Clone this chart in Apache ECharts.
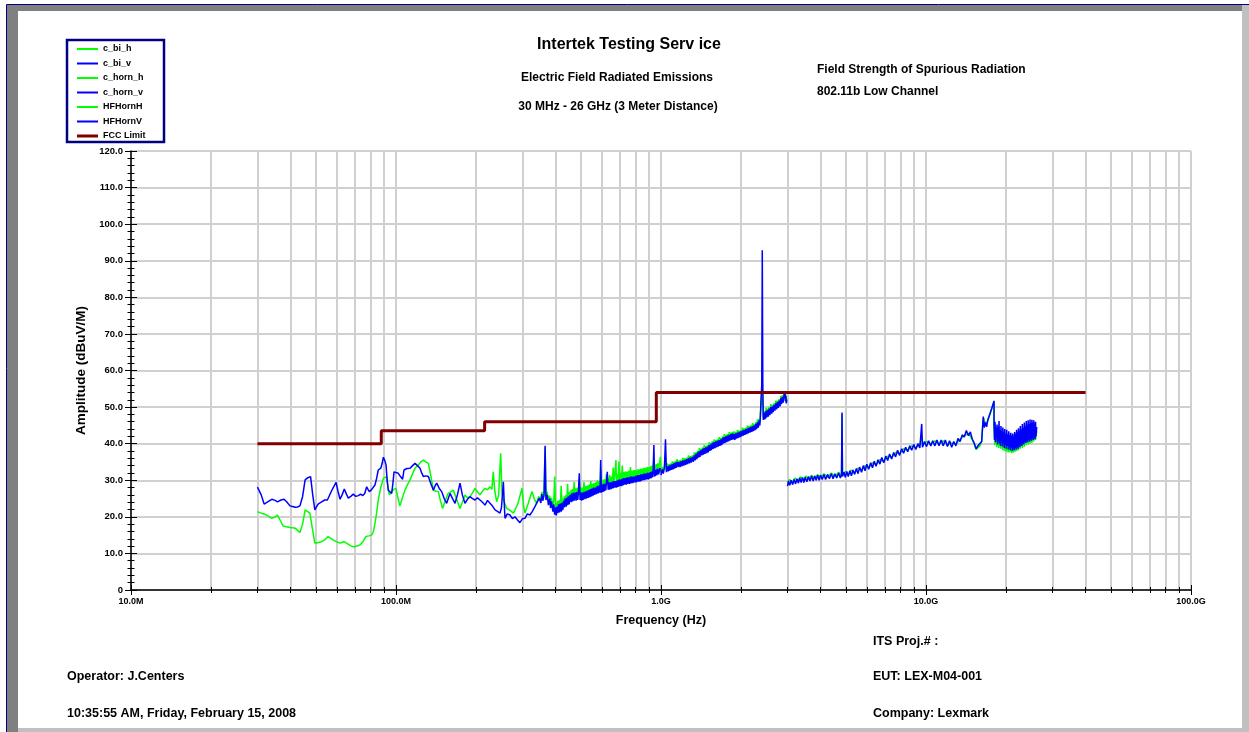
<!DOCTYPE html>
<html><head><meta charset="utf-8">
<script src="https://cdn.jsdelivr.net/npm/echarts@6/dist/echarts.min.js"></script>
<style>html,body{margin:0;padding:0;background:#fff}#c{width:1249px;height:732px}</style>
</head><body><div id="c"></div>
<script>
// ---- data (frequency in MHz, amplitude in dBuV/m) ----
const seriesNames = ['c_bi_h','c_bi_v','c_horn_h','c_horn_v','HFHornH','HFHornV','FCC Limit'];
const yTicks = [0,10,20,30,40,50,60,70,80,90,100,110,120];

const limitFreq = [30, 88, 88, 216, 216, 960, 960, 40000];
const limitVal  = [40, 40, 43.5, 43.5, 46, 46, 54, 54];

const c_bi_h = [[30,21.4],[31,21],[31.8,20.8],[33,20.2],[34,19.6],[35,20],[35.7,20.5],[36.6,19],[37.5,17.5],[38.6,17.3],[39.8,17.1],[40.7,17],[41.6,16.9],[42.5,16.3],[43.4,15.7],[44.4,18],[45.4,21.9],[46.3,21.5],[47.3,21.0],[48.3,17],[49.4,12.8],[51,13],[52.4,13.2],[54,13.8],[55.4,14.6],[56.6,14.2],[57.9,13.7],[59.6,13.2],[61.5,12.8],[63.6,13.2],[65,12.8],[66.1,12.3],[67.8,12],[69.4,11.8],[71.2,12],[73.1,12.3],[75,13.2],[77,14.6],[79,14.8],[80.9,15.0],[82.2,16],[83.3,18.2],[84.5,21],[85.7,24.6],[87.6,28],[89.6,30.5],[92.2,31.0],[93.3,28],[94.4,26.0],[96.3,26.9],[98,27.5],[99.9,27.8],[101.5,25.5],[103.4,23.0],[105.5,25],[108.1,27.3],[110.5,28.8],[113,30.1],[115.5,31.8],[118,33.3],[121.5,34.2],[124,35],[126.9,35.5],[129.5,35],[132.5,34.6],[135.5,31],[138.4,27.3],[141.5,27],[144.5,26.9],[147,24.5],[149.9,22.3],[153.5,24.5],[157.3,26.4],[160.8,26.8],[164.5,27.3],[169,25],[174.4,22.3],[178,24],[182.1,26.0],[186,25.2],[190.2,25.5],[194.5,26.6],[198.7,27.8],[203,26.8],[207.5,26.0],[212,27],[216.7,27.8],[221.5,27.4],[226.3,28.2],[230,27.5],[232.9,32.3],[236,27],[239.9,24.1],[244,26],[248.3,37.4],[251,27],[254.2,24.6],[258,23.5],[261.7,22.3],[269,21.8],[277.4,21.0],[288,23.5],[298.9,27.8],[303,23],[306.6,21.0],[315,23.5],[325.8,26.9],[332,25],[339.3,23.7],[345,25.5],
[352,25.0],[355,26.8],[358,25.2],[362,26.8],[365.4,39.0],[368,25.6],[372,26.8],[376,24.4],[380,25.8],[383,23.6],[386,25.2],[391,22.8],[394,24.6],[397,31.0],[400,22.6],[402,23.8],[405,22.0],[408,24.4],[411,22.4],[414,24.6],[417,22.6],[420,28.5],[423,23.0],[426,25.0],[429,23.4],[432,25.6],[435,23.8],[438,26.0],[441,24.2],[444,29.0],[447,24.6],[450,26.8],[454,25.0],[458,27.4],[461,25.4],[464,27.6],[467,25.6],[470,29.5],[474,25.8],[478,27.8],[481,25.8],[485,28.0],[488,26.0],[491,30.5],[495,26.0],[498,28.0],[502,26.0],[505,28.0],[508,26.2],[512,29.5],[516,26.4],[520,28.4],[524,26.6],[528,28.6],[532,26.8],[536,28.8],[540,27.0],[543,29.8],[547,27.2],[550,29.0],[554,27.4],[558,29.2],[562,27.4],[567,29.4],[571,27.6],[575,30.0],[580,27.8],[585,29.8],[589,28.0],[592,33.0],[596,28.0],[600,30.0],[604,28.2],[608,30.2],[611,28.4],[615,30.4],[619,28.6],[622,31.6],[627,28.8],[632,30.6],[636,28.8],[640,31.4],[645,29.0],[650,31.0],[655,29.2],[660,33.5],[664,29.4],[669,31.4],[676,35.5],[679,29.6],[684,31.6],[689,29.8],[694,35.2],[699,30.0],[704,32.0],[709,30.0],[714,34.0],[719,30.2],[724,32.2],[729,30.4],[735,32.4],[740,30.4],[745,32.4],[750,30.6],[756,32.6],[762,30.6],[767,33.6],[772,30.8],[778,32.6],[784,30.8],[790,32.8],[796,31.0],[802,32.8],[808,31.0],[815,33.0],[821,31.2],[827,33.0],[833,31.2],[840,33.2],[845,31.4],[850,33.2],[856,31.6],[862,33.4],[868,31.6],[875,33.4],[881,31.8],[888,33.6],[894,31.8],[901,33.6],[906,32.0],[912,33.8],[918,32.2],[925,34.0],[930,32.4],[940,36.0],[945,32.6],[953,32.8],[959,34.4],[965,33.0],[972,34.6],[980,33.2],[995,36.4],[1000,33.4]];

const c_bi_v = [[30,28.1],[31,26],[31.8,23.5],[33,24.2],[34,24.8],[35,24.5],[35.7,24.1],[36.8,24.6],[37.8,24.8],[38.8,24],[39.8,23.0],[40.7,22.8],[41.6,22.6],[42.5,22.7],[43.4,23.0],[44.4,25.5],[45.4,30.1],[46.5,30.7],[47.6,31.0],[48.5,26],[49.4,21.9],[50.8,23.5],[52.4,24.1],[53.8,24.6],[55.1,24.6],[57.2,27.2],[59.4,29.4],[60.4,27],[61.5,24.8],[62.6,26],[63.8,27.6],[65,26.2],[66.1,25.1],[67.5,25.6],[69,26.2],[70.5,25.6],[72.1,25.8],[73.5,26.2],[74.9,25.8],[76.2,26.4],[77.5,28.2],[78.4,27.5],[79.3,26.9],[81,27.5],[83.3,28.7],[84.5,30.5],[85.7,32.8],[87.6,33.3],[88.6,34.5],[89.6,36.3],[90.6,35.5],[91.7,34.2],[92.6,30],[93.5,27.3],[94.9,26.8],[96.3,26.4],[97.3,29],[98.3,32.3],[100,32.5],[102,31.9],[104,31],[105.9,30.3],[107.2,32.8],[110,33.2],[113,33.3],[115.5,34],[118,34.6],[120.5,34],[123.2,33.3],[125,32],[126.9,31.0],[129.7,31.2],[132.5,31.0],[135.5,29],[138.4,27.3],[140.5,28.5],[142.5,29.2],[145.5,27.8],[148.7,26.9],[152,25],[155.3,23.7],[157.5,25],[159.9,26.4],[163.5,25],[167,23.7],[170.5,26],[174.4,29.2],[178,26],[182.1,23.7],[186,24.8],[190.2,25.5],[194.5,25],[198.7,24.6],[203,25.2],[207.5,24.6],[212,24],[216.7,23.2],[221.5,24.5],[226.3,23.7],[231,23],[236.4,21.9],[241.5,21.5],[246.8,21.0],[250,22.5],[254.2,29.6],[256,24],[257.8,19.6],[263,20.8],[269.2,20.5],[275,19.5],[281.2,20.0],[287,19.2],[293.6,18.4],[300,19.5],[306.6,19.6],[313,20.8],[320.2,20.5],[327,21.5],[334.4,22.8],[341,24],[347.4,25.1],
[352,23.8],[355,26.2],[358,24.4],[362,25.9],[365.4,39.4],[368,24.6],[372,26.0],[376,23.2],[380.3,25.0],[383,22.4],[386,24.2],[391,21.4],[394,23.4],[397,20.6],[400,22.6],[402.7,20.4],[405,22.8],[408,21.0],[411,23.4],[414,21.2],[417,23.6],[420.3,21.4],[423,23.8],[426,21.8],[429,24.4],[432,22.6],[435,25.0],[438.7,22.8],[441,25.2],[444,23.2],[447,25.6],[450,23.4],[454,26.0],[458,24.0],[461,26.4],[464,24.2],[467,26.6],[470,24.4],[474,26.6],[478,24.4],[481,26.8],[485,24.6],[488,26.6],[491.6,31.9],[495,24.6],[498.5,26.6],[502,24.4],[505,26.6],[508,24.6],[512,26.8],[516,24.8],[520,27.0],[524,25.0],[528,27.2],[532,25.2],[536,27.4],[540,25.4],[543,27.6],[547,25.6],[550,27.8],[554,25.8],[558,28.0],[562,26.0],[567,28.0],[571,26.2],[575,28.4],[580,26.4],[585,28.6],[589,26.6],[592,35.5],[596,26.6],[600,28.8],[604,26.8],[608,29.0],[611,27.0],[615,29.0],[619,27.2],[622,29.2],[627,32.3],[632,27.4],[636,29.4],[640,27.4],[645,29.4],[650,27.6],[655,29.6],[660,27.8],[664,29.8],[669,28.0],[674,29.8],[679,28.0],[684,30.0],[689,28.2],[694,30.2],[699,28.4],[704,30.2],[709,28.4],[714,30.4],[719,28.6],[724,30.6],[729,28.8],[735,30.6],[740,28.8],[745,30.8],[750,29.0],[756,30.8],[762,29.0],[767,31.0],[772,29.2],[778,31.0],[784,29.2],[790,31.0],[796,29.4],[802,31.2],[808,29.4],[815,31.4],[821,29.6],[827,31.4],[833,29.6],[840,31.6],[845,29.8],[850,31.6],[856,30.0],[862,31.8],[868,30.0],[875,31.8],[881,30.2],[888,32.0],[894,30.2],[901,32.0],[906,30.4],[912,32.2],[918,30.6],[925,32.4],[930,30.8],[935,33.5],[940,39.6],[945,31.0],[949,32.8],[953,31.2],[959,33.0],[965,31.4],[972,33.2],[980,31.6],[990,33.4],[1000,32.0]];

const c_horn_h = [[1000,32.0],[1010,33.6],[1020,32.6],[1030,33.8],[1040,36.5],[1048,32.8],[1056,34.6],[1065,32.8],[1073,34.4],[1080,33.4],[1088,34.6],[1095,33.2],[1103,35.2],[1110,33.4],[1118,35.0],[1125,34.0],[1133,35.2],[1140,33.8],[1150,35.8],[1160,34.0],[1170,35.4],[1180,34.4],[1190,35.6],[1200,34.2],[1210,36.2],[1220,34.4],[1230,36.0],[1240,35.0],[1250,36.2],[1260,34.8],[1270,36.8],[1280,35.0],[1290,36.6],[1300,35.6],[1312,36.8],[1324,35.4],[1335,37.6],[1345,35.8],[1355,37.6],[1365,36.6],[1375,38.0],[1385,36.6],[1395,38.8],[1403,36.8],[1414,38.6],[1425,37.6],[1435,39.0],[1445,37.4],[1455,39.6],[1465,37.6],[1476,39.4],[1487,38.2],[1498,39.6],[1508,38.0],[1519,40.4],[1530,38.4],[1540,40.2],[1550,39.0],[1562,40.6],[1575,39.0],[1587,41.2],[1598,39.2],[1610,41.0],[1620,39.8],[1632,41.2],[1645,39.6],[1658,41.8],[1670,39.8],[1683,41.6],[1695,40.4],[1708,42.0],[1720,40.4],[1733,42.6],[1745,40.6],[1758,42.4],[1770,41.2],[1783,42.6],[1795,41.0],[1808,43.2],[1820,41.2],[1834,43.0],[1848,41.8],[1862,43.2],[1875,41.6],[1888,43.4],[1900,41.8],[1915,43.2],[1930,42.0],[1945,43.8],[1960,42.0],[1975,43.6],[1987,42.6],[2000,43.8],[2015,42.4],[2030,44.4],[2045,42.6],[2060,44.2],[2074,43.2],[2090,44.4],[2105,43.0],[2120,45.0],[2135,43.2],[2150,44.8],[2167,43.8],[2183,45.0],[2200,43.6],[2215,45.6],[2230,43.8],[2247,45.4],[2263,44.4],[2280,45.8],[2295,44.4],[2312,46.6],[2330,44.8],[2345,46.8],[2360,45.8],[2372,48.0],[2384,50.0],[2411,55.0],[2432,47.0],[2446,48.8],[2460,47.4],[2470,49.0],[2480,47.2],[2492,49.8],[2505,47.6],[2522,49.6],[2540,48.2],[2557,50.0],[2575,48.2],[2596,50.8],[2617,48.6],[2633,50.6],[2650,49.4],[2670,51.0],[2690,49.4],[2712,51.8],[2734,49.8],[2752,51.8],[2770,50.6],[2792,52.2],[2813,50.6],[2832,53.0],[2850,51.2],[2870,53.2],[2890,52.0],[2914,53.8],[2938,54.2],[2950,52.2],[2960,53.4],[2970,51.4],[2980,52.4]];

const c_horn_v = [[1000,31.4],[1010,33.0],[1020,31.8],[1030,33.4],[1040,41.2],[1048,32.2],[1056,33.8],[1065,32.4],[1073,34.0],[1080,32.6],[1088,34.2],[1095,32.8],[1103,34.4],[1110,33.0],[1118,34.6],[1125,33.2],[1133,34.8],[1140,33.4],[1150,35.0],[1160,33.6],[1170,35.0],[1180,33.6],[1190,35.2],[1200,33.8],[1210,35.4],[1220,34.0],[1230,35.6],[1240,34.2],[1250,35.8],[1260,34.4],[1270,36.0],[1280,34.6],[1290,36.2],[1300,34.8],[1312,36.4],[1324,35.0],[1335,36.8],[1345,35.4],[1355,37.2],[1365,35.8],[1375,37.6],[1385,36.2],[1395,38.0],[1403,36.4],[1414,38.2],[1425,36.8],[1435,38.6],[1445,37.0],[1455,38.8],[1465,37.2],[1476,39.0],[1487,37.4],[1498,39.2],[1508,37.6],[1519,39.6],[1530,38.0],[1540,39.8],[1550,38.2],[1562,40.2],[1575,38.6],[1587,40.4],[1598,38.8],[1610,40.6],[1620,39.0],[1632,40.8],[1645,39.2],[1658,41.0],[1670,39.4],[1683,41.2],[1695,39.6],[1708,41.6],[1720,40.0],[1733,41.8],[1745,40.2],[1758,42.0],[1770,40.4],[1783,42.2],[1795,40.6],[1808,42.4],[1820,40.8],[1834,42.6],[1848,41.0],[1862,42.8],[1875,41.2],[1888,42.6],[1900,41.0],[1915,42.8],[1930,41.4],[1945,43.0],[1960,41.6],[1975,43.2],[1987,41.8],[2000,43.4],[2015,42.0],[2030,43.6],[2045,42.2],[2060,43.8],[2074,42.4],[2090,44.0],[2105,42.6],[2120,44.2],[2135,42.8],[2150,44.4],[2167,43.0],[2183,44.6],[2200,43.2],[2215,44.8],[2230,43.4],[2247,45.0],[2263,43.6],[2280,45.4],[2295,44.0],[2312,45.8],[2330,44.4],[2345,46.4],[2360,45.0],[2372,47.5],[2384,51.9],[2400,56],[2411,92.9],[2422,56],[2432,46.5],[2446,48.4],[2460,46.6],[2470,48.6],[2480,46.8],[2492,49.0],[2505,47.2],[2522,49.2],[2540,47.4],[2557,49.6],[2575,47.8],[2596,50.0],[2617,48.2],[2633,50.2],[2650,48.6],[2670,50.6],[2690,49.0],[2712,51.0],[2734,49.4],[2752,51.4],[2770,49.8],[2792,51.8],[2813,50.2],[2832,52.4],[2850,50.8],[2870,52.8],[2890,51.2],[2914,53.4],[2938,54.0],[2950,51.6],[2960,53.0],[2970,51.0],[2980,52.0]];

const hfHornH = [[3000,29.4],[3060,30.2],[3120,29.4],[3200,30.6],[3280,29.8],[3360,31.0],[3440,30.0],[3520,31.2],[3600,30.2],[3700,31.4],[3800,30.4],[3900,31.6],[4000,30.6],[4120,31.8],[4250,30.8],[4390,32.0],[4530,31.0],[4680,32.2],[4800,31.2],[4821,48.0],[4840,31.4],[4960,32.4],[5090,31.6],[5230,32.8],[5380,32.0],[5540,33.4],[5710,32.6],[5890,34.0],[6080,33.4],[6280,34.8],[6480,34.2],[6699,35.6],[6930,35.2],[7170,36.6],[7420,36.2],[7680,37.6],[7950,37.2],[8230,38.6],[8530,38.2],[8830,39.4],[9150,38.8],[9480,40.0],[9633,42.0],[9700,39.4],[10050,40.6],[10420,39.8],[10800,40.8],[11200,39.8],[11620,40.8],[12050,39.6],[12500,40.2],[12960,39.8],[13450,41.2],[13950,42.2],[14450,42.8],[14950,41.2],[15450,38.4],[15950,39.4],[16220,40.6],[16450,47.0],[16750,45.6],[17100,46.2],[17500,48.4],[17900,50.6],[18060,51.4],
[18060,44.6],[18180,39.6],[18340,45.0],[18500,39.0],[18660,44.0],[18820,38.8],[18980,43.8],[19140,38.6],[19300,43.4],[19460,38.2],[19620,42.8],[19780,38.0],[19940,42.6],[20100,37.8],[20260,42.4],[20420,37.6],[20580,42.2],[20740,37.6],[20900,42.0],[21060,37.4],[21220,42.0],[21380,37.6],[21540,42.4],[21700,37.8],[21860,42.8],[22020,38.0],[22180,43.2],[22340,38.2],[22500,43.6],[22700,38.6],[22900,44.0],[23100,38.8],[23300,44.4],[23500,39.2],[23700,44.8],[23900,39.6],[24100,45.2],[24300,39.8],[24500,45.4],[24700,40.0],[24900,45.6],[25100,40.2],[25300,45.4],[25500,40.6],[25700,45.2],[25900,41.0],[26170,43.4]];

const hfHornV = [[3000,28.4],[3030,29.8],[3060,28.6],[3100,30.0],[3140,28.8],[3180,30.2],[3220,29.0],[3260,30.4],[3300,29.2],[3340,30.6],[3380,29.4],[3420,30.8],[3460,29.4],[3500,30.8],[3550,29.6],[3600,31.0],[3650,29.8],[3700,31.2],[3750,29.8],[3800,31.2],[3850,30.0],[3900,31.4],[3950,30.0],[4000,31.4],[4060,30.2],[4120,31.6],[4180,30.2],[4250,31.6],[4320,30.4],[4390,31.8],[4460,30.4],[4530,31.8],[4603,30.6],[4680,32.0],[4750,30.6],[4800,31.6],[4821,48.5],[4840,31.0],[4900,32.2],[4960,30.8],[5023,32.4],[5090,31.0],[5160,32.6],[5230,31.2],[5300,32.8],[5380,31.6],[5460,33.2],[5540,31.8],[5620,33.6],[5710,32.2],[5800,34.0],[5890,32.6],[5980,34.4],[6080,33.0],[6180,34.8],[6280,33.4],[6380,35.2],[6480,33.8],[6590,35.6],[6699,34.4],[6810,36.2],[6930,34.8],[7050,36.6],[7170,35.4],[7290,37.2],[7420,35.8],[7550,37.6],[7680,36.4],[7810,38.2],[7950,36.8],[8090,38.6],[8230,37.4],[8380,39.0],[8530,37.8],[8680,39.4],[8830,38.2],[8990,39.8],[9150,38.4],[9320,40.0],[9480,38.8],[9633,45.4],[9700,39.0],[9870,40.6],[10050,39.2],[10230,40.8],[10420,39.4],[10600,40.8],[10800,39.4],[11000,41.0],[11200,39.4],[11400,41.0],[11620,39.4],[11830,41.0],[12050,39.2],[12270,40.8],[12500,39.0],[12730,40.6],[12960,39.4],[13200,41.4],[13450,40.6],[13700,42.4],[13950,41.8],[14200,43.6],[14450,42.2],[14700,43.2],[14950,41.2],[15200,40.2],[15450,38.6],[15700,39.4],[15950,39.0],[16220,40.6],[16330,44.0],[16450,47.4],[16600,44.4],[16750,45.8],[16940,44.6],[17100,46.4],[17300,46.8],[17500,48.6],[17700,49.6],[17900,50.8],[18060,51.7],
[18060,45.4],[18140,41.0],[18220,46.0],[18300,40.4],[18380,44.2],[18460,41.6],[18540,45.2],[18620,39.8],[18700,44.6],[18780,40.6],[18860,46.2],[18940,40.0],[19020,43.6],[19100,39.4],[19180,44.8],[19260,40.8],[19340,43.4],[19420,39.2],[19500,44.4],[19580,40.2],[19660,43.2],[19740,38.8],[19820,44.0],[19900,39.6],[19990,42.8],[20080,38.6],[20170,43.8],[20260,39.4],[20350,42.6],[20440,38.4],[20530,43.4],[20620,39.0],[20710,42.4],[20800,38.2],[20890,43.0],[20980,38.8],[21070,42.2],[21160,38.0],[21250,42.8],[21340,38.6],[21430,42.0],[21520,38.2],[21610,43.2],[21700,38.8],[21790,42.6],[21880,38.4],[21970,43.8],[22060,39.0],[22150,43.0],[22240,38.6],[22330,44.2],[22420,39.2],[22510,43.4],[22600,39.0],[22700,44.8],[22800,39.6],[22900,43.8],[23000,39.4],[23100,45.4],[23200,40.0],[23300,44.2],[23400,39.8],[23500,45.8],[23600,40.4],[23700,44.6],[23800,40.2],[23900,46.2],[24000,40.6],[24100,45.0],[24200,40.4],[24300,46.4],[24400,41.0],[24500,45.4],[24600,40.6],[24700,46.6],[24800,41.2],[24900,45.6],[25000,40.8],[25100,46.5],[25200,41.4],[25300,45.8],[25400,41.0],[25500,46.4],[25600,41.6],[25700,45.6],[25800,41.2],[25900,46.0],[26000,42.0],[26170,44.6]];

// ---- chart ----
const FONT = 'Liberation Sans, Arial, sans-serif';
const GREEN = '#00ff00', BLUE = '#0000ff', LIMIT = '#800000';
const gridBox = {left: 131, right: 58, top: 151, bottom: 142};
const xFmt = v => v < 1000 ? v.toFixed(1) + 'M' : (v / 1000).toFixed(1) + 'G';
const yFmt = v => v === 0 ? '0' : v.toFixed(1);

function mkX(grid, main) {
  return {
    type: 'log', logBase: 10, min: 10, max: 100000, gridIndex: grid,
    name: main ? 'Frequency (Hz)' : '', nameLocation: 'middle', nameGap: 24,
    nameTextStyle: {fontFamily: FONT, fontWeight: 'bold', fontSize: 12.5, color: '#000'},
    axisLine: {show: main, lineStyle: {color: '#000', width: 1.5}},
    axisTick: {show: true, inside: !main, length: 5, lineStyle: {color: '#000', width: 1}},
    minorTick: {show: true, splitNumber: 9, length: 3, lineStyle: {color: '#000', width: 1}},
    axisLabel: {show: main, formatter: xFmt, margin: 7, fontFamily: FONT, fontWeight: 'bold', fontSize: 9, color: '#000'},
    splitLine: {show: main, lineStyle: {color: '#d0d0d0', width: 2}},
    minorSplitLine: {show: main, lineStyle: {color: '#d0d0d0', width: 2}}
  };
}
function mkY(grid, main) {
  return {
    type: 'value', min: yTicks[0], max: yTicks[yTicks.length - 1], interval: 10, gridIndex: grid,
    name: main ? 'Amplitude (dBuV/M)' : '', nameLocation: 'middle', nameGap: 34, nameRotate: 90,
    nameTextStyle: {fontFamily: FONT, fontWeight: 'bold', fontSize: 13.5, color: '#000'},
    axisLine: {show: main, lineStyle: {color: '#000', width: 1.5}},
    axisTick: {show: true, inside: !main, length: 6, lineStyle: {color: '#000', width: 1}},
    minorTick: {show: true, splitNumber: 5, length: 3.5, lineStyle: {color: '#000', width: 1}},
    axisLabel: {show: main, formatter: yFmt, margin: 8, fontFamily: FONT, fontWeight: 'bold', fontSize: 9.5, color: '#000'},
    splitLine: {show: main, lineStyle: {color: '#d0d0d0', width: 2}}
  };
}
function line(name, data, color, width) {
  return {name, type: 'line', data, xAxisIndex: 0, yAxisIndex: 0, showSymbol: false, symbol: 'none',
    lineStyle: {color, width}, itemStyle: {color}, emphasis: {disabled: true}, animation: false, z: 3};
}

const limitData = limitFreq.map((f, i) => [f, limitVal[i]]);
const T = (text, x, y, size, align) => ({type: 'text', x, y, silent: true, z: 10,
  style: {text, font: 'bold ' + size + 'px ' + FONT, fill: '#000', align: align || 'left', verticalAlign: 'middle',
          textAlign: align || 'left', textVerticalAlign: 'middle'}});
const thinIcon = 'path://M0,0H0.05V0.05H0Z M0,4H23V6H0Z M22.95,9.95H23V10H22.95Z';
const thickIcon = 'path://M0,0H0.05V0.05H0Z M0,3.5H23V6.5H0Z M22.95,9.95H23V10H22.95Z';

const chart = echarts.init(document.getElementById('c'), null, {renderer: 'canvas'});
chart.setOption({
  backgroundColor: '#ffffff',
  animation: false,
  grid: [Object.assign({outerBoundsMode: 'none'}, gridBox), Object.assign({outerBoundsMode: 'none'}, gridBox)],
  xAxis: [mkX(0, true), mkX(1, false)],
  yAxis: [mkY(0, true), mkY(1, false)],
  legend: {
    orient: 'vertical', left: 77, top: 44, itemWidth: 21, itemHeight: 10, itemGap: 4.5, padding: 0,
    selectedMode: false, symbolKeepAspect: false,
    textStyle: {fontFamily: FONT, fontWeight: 'bold', fontSize: 9, color: '#000', lineHeight: 10},
    data: seriesNames.slice(0, 6).map(n => ({name: n, icon: thinIcon})).concat([{name: 'FCC Limit', icon: thickIcon}])
  },
  series: [
    line(seriesNames[0], c_bi_h, GREEN, 1.5),
    line(seriesNames[1], c_bi_v, BLUE, 1.5),
    line(seriesNames[2], c_horn_h, GREEN, 1.5),
    line(seriesNames[3], c_horn_v, BLUE, 1.5),
    line(seriesNames[4], hfHornH, GREEN, 1.5),
    line(seriesNames[5], hfHornV, BLUE, 1.5),
    Object.assign(line(seriesNames[6], limitData, LIMIT, 3), {z: 4})
  ],
  graphic: [
    // page frame
    {type: 'rect', z: 20, silent: true, shape: {x: 7, y: 5, width: 1242, height: 6}, style: {fill: '#808080'}},
    {type: 'polygon', z: 20, silent: true, shape: {points: [[7,5],[18,11],[18,732],[7,732]]}, style: {fill: '#808080'}},
    {type: 'rect', z: 21, silent: true, shape: {x: 1242, y: 5, width: 7, height: 727}, style: {fill: '#c0c0c0'}},
    {type: 'rect', z: 21, silent: true, shape: {x: 18, y: 728, width: 1231, height: 4}, style: {fill: '#c0c0c0'}},
    {type: 'line', z: 22, silent: true, shape: {x1: 6.5, y1: 4.5, x2: 1249, y2: 4.5}, style: {stroke: '#000080', lineWidth: 1}},
    {type: 'line', z: 22, silent: true, shape: {x1: 6.5, y1: 4.5, x2: 6.5, y2: 732}, style: {stroke: '#000080', lineWidth: 1}},
    // legend box
    {type: 'rect', z: 1, silent: true, shape: {x: 67, y: 40, width: 97, height: 102}, style: {fill: '#fff', stroke: '#000080', lineWidth: 2.5}},
    // texts
    T('Intertek Testing Serv ice', 629, 45, 16, 'center'),
    T('Electric Field Radiated Emissions', 617, 78, 12, 'center'),
    T('30 MHz - 26 GHz (3 Meter Distance)', 618, 107, 12, 'center'),
    T('Field Strength of Spurious Radiation', 817, 70, 12),
    T('802.11b Low Channel', 817, 92, 12),
    T('ITS Proj.# :', 873, 642, 12.5),
    T('Operator: J.Centers', 67, 677, 12.5),
    T('EUT: LEX-M04-001', 873, 677, 12.5),
    T('10:35:55 AM, Friday, February 15, 2008', 67, 714, 12.5),
    T('Company: Lexmark', 873, 714, 12.5)
  ]
});
</script>
</body></html>
